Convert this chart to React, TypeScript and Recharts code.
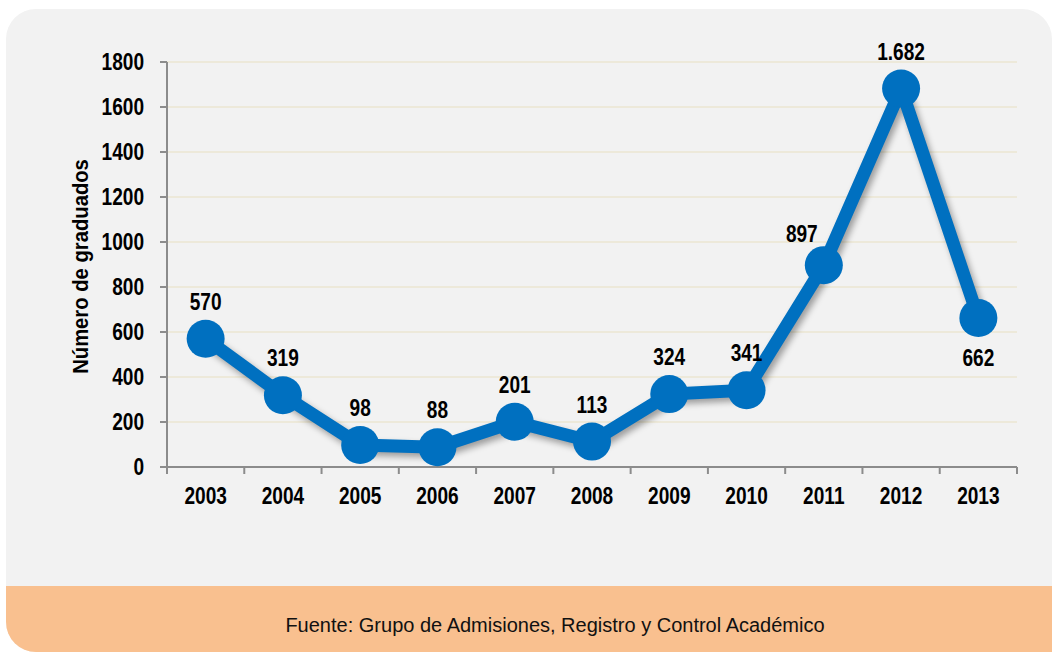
import { CartesianGrid, LabelList, Line, LineChart, XAxis, YAxis } from 'recharts'

const years = ['2003', '2004', '2005', '2006', '2007', '2008', '2009', '2010', '2011', '2012', '2013']
const graduados = [570, 319, 98, 88, 201, 113, 324, 341, 897, 1682, 662]
const yTicks = [0, 200, 400, 600, 800, 1000, 1200, 1400, 1600, 1800]
const boundTicks = [0, 1, 2, 3, 4, 5, 6, 7, 8, 9, 10, 11]

// slot = centre of the category band on the 0..11 boundary axis
const data = years.map((year, i) => ({ year, value: graduados[i], slot: i + 0.5 }))

// Arial Narrow is not installed: squeeze Liberation Sans Bold horizontally instead
const FONT = '"Liberation Sans", Arial, sans-serif'
const BLUE = '#0070c0'

function formatNum(v: number): string {
  return v.toLocaleString('de-DE')
}

function NarrowText({ x, y, anchor = 'middle', size = 23, squeeze = 0.83, rotate = 0, children }: any) {
  return (
    <g transform={`translate(${x},${y}) rotate(${rotate})`}>
      <text
        transform={`scale(${squeeze},1)`}
        textAnchor={anchor}
        dominantBaseline="central"
        fontFamily={FONT}
        fontWeight="bold"
        fontSize={size}
        fill="#000"
      >
        {children}
      </text>
    </g>
  )
}

// boundary axis only draws tick marks, no text
function EmptyTick() {
  return <g />
}

function YearTick(props: any) {
  const { x, y, payload } = props
  return (
    <NarrowText x={x} y={y + 20}>
      {payload.value}
    </NarrowText>
  )
}

function ValueTick(props: any) {
  const { x, y, payload } = props
  return (
    <NarrowText x={x - 14} y={y} anchor="end">
      {payload.value}
    </NarrowText>
  )
}

function AxisTitle(props: any) {
  const { viewBox } = props
  return (
    <NarrowText x={80} y={viewBox.y + viewBox.height / 2 + 2} size={22} squeeze={0.92} rotate={-90}>
      Número de graduados
    </NarrowText>
  )
}

function PointLabel(props: any) {
  const { x, y, value, index } = props
  if (x == null || y == null) return null
  const last = index === years.length - 1
  const dx = index === 8 ? -22 : 0
  const dy = last ? 40 : index === 8 ? -31 : -37
  return (
    <NarrowText x={x + dx} y={y + dy}>
      {formatNum(value)}
    </NarrowText>
  )
}

export default function App() {
  return (
    <div style={{ position: 'fixed', left: 0, top: 0, width: 1052, height: 654, background: '#fff', overflow: 'hidden' }}>
      <style>{`.recharts-line { filter: drop-shadow(3px 4px 3px rgba(0,0,0,0.35)); }`}</style>
      <div
        style={{
          position: 'absolute',
          left: 6,
          top: 9,
          width: 1046,
          height: 643,
          background: '#f2f2f2',
          borderRadius: '30px 30px 0 30px',
          overflow: 'hidden',
        }}
      >
        <div
          style={{
            position: 'absolute',
            left: 0,
            right: 0,
            top: 577,
            bottom: 0,
            background: '#f9c08f',
            display: 'flex',
            alignItems: 'center',
            justifyContent: 'center',
            fontFamily: FONT,
            fontSize: 20,
            color: '#111',
            paddingLeft: 52,
            paddingTop: 12,
            boxSizing: 'border-box',
          }}
        >
          Fuente: Grupo de Admisiones, Registro y Control Académico
        </div>
      </div>
      <div style={{ position: 'absolute', left: 0, top: 0 }}>
        <LineChart
          width={1052}
          height={654}
          data={data}
          margin={{ top: 62, right: 35, bottom: 157, left: 107 }}
        >
          <CartesianGrid vertical={false} stroke="#ebe6d2" strokeWidth={1.5} />
          <XAxis
            xAxisId="bounds"
            dataKey="slot"
            type="number"
            domain={[0, 11]}
            ticks={boundTicks}
            tick={<EmptyTick />}
            height={1}
            stroke="#8c8c8c"
            strokeWidth={2}
            tickSize={7}
            interval={0}
            allowDataOverflow
          />
          <XAxis
            xAxisId="years"
            dataKey="year"
            scale="band"
            axisLine={false}
            tickLine={false}
            height={29}
            tick={<YearTick />}
          />
          <YAxis
            domain={[0, 1800]}
            ticks={yTicks}
            width={60}
            stroke="#8c8c8c"
            strokeWidth={2}
            tickSize={7}
            tick={<ValueTick />}
            label={<AxisTitle />}
          />
          <Line
            xAxisId="bounds"
            type="linear"
            dataKey="value"
            stroke={BLUE}
            strokeWidth={13}
            dot={{ r: 19, fill: BLUE, stroke: 'none' }}
            activeDot={false}
            isAnimationActive={false}
          >
            <LabelList dataKey="value" content={<PointLabel />} />
          </Line>
        </LineChart>
      </div>
    </div>
  )
}
